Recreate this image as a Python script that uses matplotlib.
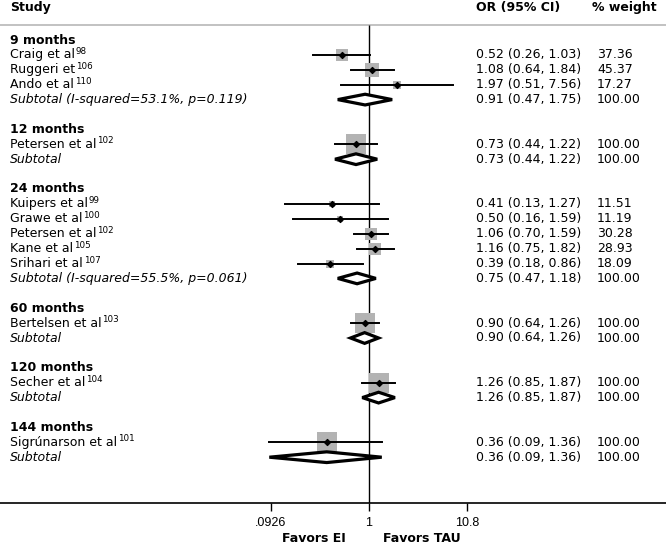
import numpy as np
import matplotlib
matplotlib.use("Agg")
import matplotlib.pyplot as plt
from matplotlib.patches import Polygon
from matplotlib.transforms import blended_transform_factory

# data
groups = ["9 months", "12 months", "24 months", "60 months", "120 months", "144 months"]

studies = [
    ["Craig et al", "Ruggeri et", "Ando et al"],
    ["Petersen et al"],
    ["Kuipers et al", "Grawe et al", "Petersen et al", "Kane et al", "Srihari et al"],
    ["Bertelsen et al"],
    ["Secher et al"],
    ["Sigrúnarson et al"],
]
refs = [["98", "106", "110"], ["102"], ["99", "100", "102", "105", "107"],
        ["103"], ["104"], ["101"]]
odds = [[0.52, 1.08, 1.97], [0.73], [0.41, 0.50, 1.06, 1.16, 0.39], [0.90], [1.26], [0.36]]
lower = [[0.26, 0.64, 0.51], [0.44], [0.13, 0.16, 0.70, 0.75, 0.18], [0.64], [0.85], [0.09]]
upper = [[1.03, 1.84, 7.56], [1.22], [1.27, 1.59, 1.59, 1.82, 0.86], [1.26], [1.87], [1.36]]
weights = [[37.36, 45.37, 17.27], [100.00], [11.51, 11.19, 30.28, 28.93, 18.09],
           [100.00], [100.00], [100.00]]

sub_labels = ["Subtotal (I-squared=53.1%, p=0.119)", "Subtotal",
              "Subtotal (I-squared=55.5%, p=0.061)", "Subtotal", "Subtotal", "Subtotal"]
sub_or = [0.91, 0.73, 0.75, 0.90, 1.26, 0.36]
sub_lo = [0.47, 0.44, 0.47, 0.64, 0.85, 0.09]
sub_hi = [1.75, 1.22, 1.18, 1.26, 1.87, 1.36]

xticks = [0.0926, 1, 10.8]
xticklabels = [".0926", "1", "10.8"]

# layout in pixels
W, H = 666, 547
row0, rowh = 40, 14.9
axis_px = 503
px_dec = 95.3
one_px = 369

fig = plt.figure(figsize=(W / 100, H / 100), dpi=100)
ax = fig.add_axes([0, (H - axis_px) / H, 1, axis_px / H])
ax.set_xscale("log")
ax.set_xlim(10 ** (-one_px / px_dec), 10 ** ((W - one_px) / px_dec))
ybot = (axis_px - row0) / rowh
ax.set_ylim(ybot, -row0 / rowh)

FS = 9
X_STUDY = 10 / W
X_OR = 476 / W
X_W = 597 / W
tr = blended_transform_factory(ax.transAxes, ax.transData)

# header
ax.text(X_STUDY, -2.15, "Study", transform=tr, fontsize=FS, fontweight="bold", va="center")
ax.text(X_OR, -2.15, "OR (95% CI)", transform=tr, fontsize=FS, fontweight="bold", va="center")
ax.text(592 / W, -2.15, "% weight", transform=tr, fontsize=FS, fontweight="bold", va="center")
ax.axhline(-1, color="#bdbdbd", lw=1.3)
ax.vlines(1, -1, ybot, color="black", lw=1)

grey = "#b3b3b3"
r = 0
for g in range(len(groups)):
    ax.text(X_STUDY, r, groups[g], transform=tr, fontsize=FS, fontweight="bold", va="center")
    r += 1
    for i in range(len(studies[g])):
        t = ax.text(X_STUDY, r, studies[g][i], transform=tr, fontsize=FS, va="center")
        ax.annotate(refs[g][i], xy=(1, 0.42), xycoords=t, xytext=(0.6, 0),
                    textcoords="offset points", fontsize=6.3, va="bottom", ha="left")
        ax.plot([lower[g][i], upper[g][i]], [r, r], color="black", lw=1.4, zorder=3)
        ax.scatter([odds[g][i]], [r], marker="s", s=2.18 * weights[g][i], color=grey,
                   linewidths=0, zorder=2)
        ax.scatter([odds[g][i]], [r], marker="D", s=9, color="black", zorder=4)
        ax.text(X_OR, r, "%.2f (%.2f, %.2f)" % (odds[g][i], lower[g][i], upper[g][i]),
                transform=tr, fontsize=FS, va="center")
        ax.text(X_W, r, "%.2f" % weights[g][i], transform=tr, fontsize=FS, va="center")
        r += 1
    ax.text(X_STUDY, r, sub_labels[g], transform=tr, fontsize=FS, style="italic", va="center")
    hh = 0.36
    dia = Polygon([[sub_lo[g], r], [sub_or[g], r - hh], [sub_hi[g], r], [sub_or[g], r + hh]],
                  closed=True, facecolor="white", edgecolor="black", lw=2.3, zorder=5)
    ax.add_patch(dia)
    ax.text(X_OR, r, "%.2f (%.2f, %.2f)" % (sub_or[g], sub_lo[g], sub_hi[g]),
            transform=tr, fontsize=FS, va="center")
    ax.text(X_W, r, "100.00", transform=tr, fontsize=FS, va="center")
    r += 2

for s in ["top", "left", "right"]:
    ax.spines[s].set_visible(False)
ax.spines["bottom"].set_linewidth(1.2)
ax.set_yticks([])
ax.set_xticks(xticks)
ax.set_xticklabels(xticklabels, fontfamily="Liberation Sans")
ax.minorticks_off()
ax.tick_params(axis="x", length=6, width=1, labelsize=9, pad=4)

fig.text(346 / W, 1 - 539 / H, "Favors EI", fontsize=FS, fontweight="bold", ha="right", va="center")
fig.text(383 / W, 1 - 539 / H, "Favors TAU", fontsize=FS, fontweight="bold", ha="left", va="center")

fig.savefig("out.png", dpi=100)
